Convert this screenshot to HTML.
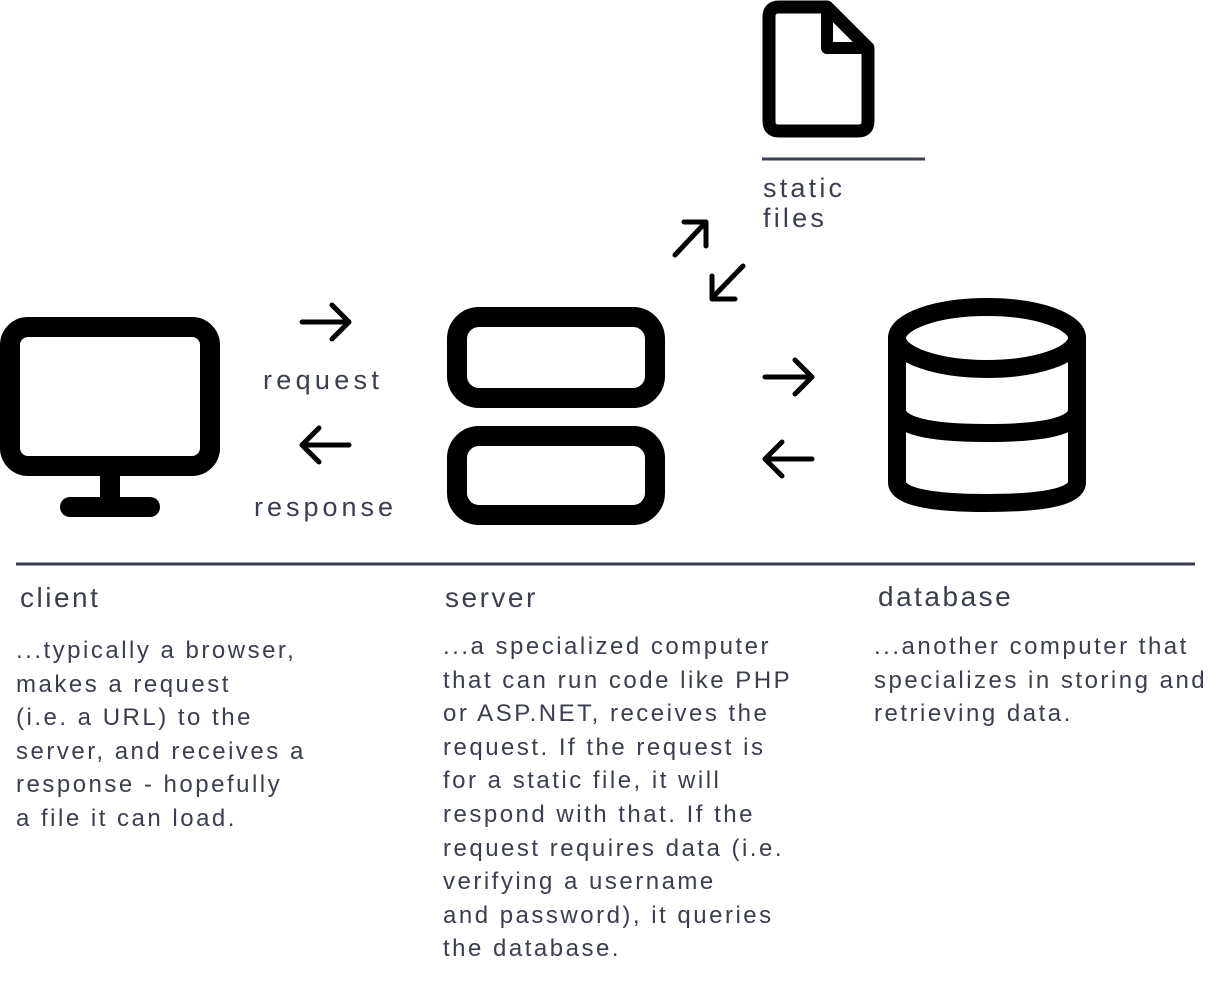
<!DOCTYPE html>
<html><head><style>
body{margin:0;background:#fff;}
svg{display:block}
text{font-family:"Liberation Sans",sans-serif;fill:#3a3e4e;letter-spacing:2.5px}
</style></head><body>
<svg width="1224" height="1008" viewBox="0 0 1224 1008" xmlns="http://www.w3.org/2000/svg">
<g fill="none" stroke="#000" stroke-linecap="round" stroke-linejoin="round">
 <!-- file -->
 <path d="M779 7 H827 L868 48 V121 Q868 131 858 131 H779 Q769 131 769 121 V17 Q769 7 779 7 Z" stroke-width="13"/>
 <path d="M827 7 V48 H868" stroke-width="12"/>
 <!-- monitor -->
 <rect x="10" y="327" width="200" height="139" rx="18" stroke-width="20"/>
 <line x1="110" y1="470" x2="110" y2="500" stroke-width="20" stroke-linecap="butt"/>
 <line x1="70" y1="507" x2="150" y2="507" stroke-width="20"/>
 <!-- server -->
 <rect x="457" y="317" width="198" height="81" rx="22" stroke-width="20"/>
 <rect x="457" y="436" width="198" height="79" rx="22" stroke-width="20"/>
 <!-- database -->
 <ellipse cx="987" cy="338" rx="90" ry="31" stroke-width="18"/>
 <path d="M897 338 V482 Q897 503 987 503 Q1077 503 1077 482 V338" stroke-width="18"/>
 <path d="M897 410 Q897 433 987 433 Q1077 433 1077 410" stroke-width="18"/>
 <!-- arrows -->
 <g stroke-width="5">
  <path d="M302 322 H349 M332 305 L349 322 L332 339"/>
  <path d="M349 445 H302 M319 428 L302 445 L319 462"/>
  <path d="M765 377 H812 M795 360 L812 377 L795 394"/>
  <path d="M812 459 H765 M782 442 L765 459 L782 476"/>
  <path d="M675 255 L706 222 M684 222 H706 V246"/>
  <path d="M743 266 L712 298 M712 276 V299 H735"/>
 </g>
</g>
<line x1="762" y1="159" x2="925" y2="159" stroke="#3a3e4e" stroke-width="3"/>
<line x1="16" y1="564" x2="1195" y2="564" stroke="#3a3e4e" stroke-width="3"/>
<text x="763" y="197" font-size="27" style="letter-spacing:3.2px">static</text>
<text x="763" y="227" font-size="27" style="letter-spacing:3.2px">files</text>
<text x="263" y="389" font-size="27" style="letter-spacing:4.3px">request</text>
<text x="254" y="516" font-size="27" style="letter-spacing:4px">response</text>
<g font-size="28" style="letter-spacing:3.6px">
<text x="20" y="607">client</text>
<text x="445" y="607">server</text>
<text x="878" y="606">database</text>
</g>
<g font-size="24">
<text x="16" y="658">...typically a browser,</text>
<text x="16" y="692">makes a request</text>
<text x="16" y="725">(i.e. a URL) to the</text>
<text x="16" y="759">server, and receives a</text>
<text x="16" y="792">response - hopefully</text>
<text x="16" y="826">a file it can load.</text>
<text x="443" y="654">...a specialized computer</text>
<text x="443" y="688">that can run code like PHP</text>
<text x="443" y="721">or ASP.NET, receives the</text>
<text x="443" y="755">request. If the request is</text>
<text x="443" y="788">for a static file, it will</text>
<text x="443" y="822">respond with that. If the</text>
<text x="443" y="856">request requires data (i.e.</text>
<text x="443" y="889">verifying a username</text>
<text x="443" y="923">and password), it queries</text>
<text x="443" y="956">the database.</text>
<text x="874" y="654">...another computer that</text>
<text x="874" y="688">specializes in storing and</text>
<text x="874" y="721">retrieving data.</text>
</g>
</svg>
</body></html>
